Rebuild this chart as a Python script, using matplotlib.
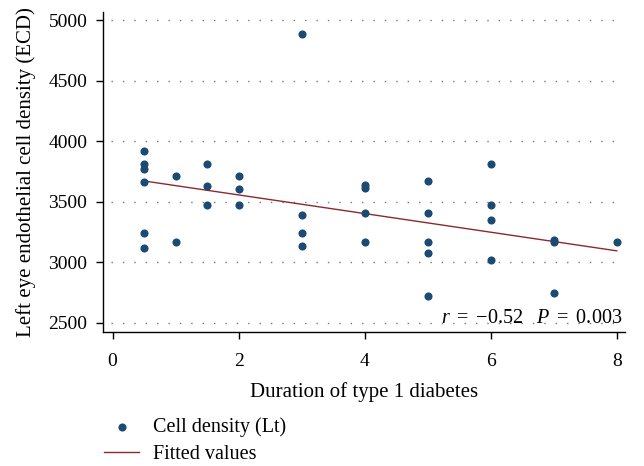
import numpy as np
import matplotlib
matplotlib.use("Agg")
import matplotlib.pyplot as plt

# duration of type 1 diabetes (years) and left eye ECD
duration = [0.5, 0.5, 0.5, 0.5, 0.5, 0.5,
            1, 1,
            1.5, 1.5, 1.5,
            2, 2, 2,
            3, 3, 3, 3,
            4, 4, 4, 4,
            5, 5, 5, 5, 5,
            6, 6, 6, 6,
            7, 7, 7,
            8]
density = [3920, 3810, 3770, 3660, 3240, 3120,
           3710, 3170,
           3810, 3630, 3475,
           3710, 3605, 3475,
           4885, 3390, 3240, 3135,
           3640, 3610, 3405, 3170,
           3670, 3410, 3170, 3080, 2720,
           3810, 3475, 3348, 3022,
           3185, 3170, 2748,
           3170]
# fitted values line
fit_x = [0.5, 8]
fit_y = [3672, 3094]
yticks = [2500, 3000, 3500, 4000, 4500, 5000]
xticks = [0, 2, 4, 6, 8]

plt.rcParams['font.family'] = ['Liberation Serif', 'DejaVu Serif']
plt.rcParams['mathtext.fontset'] = 'custom'
plt.rcParams['mathtext.it'] = 'Liberation Serif:italic'
plt.rcParams['mathtext.rm'] = 'Liberation Serif'

dot_col = '#1b4a72'
line_col = '#8b2a2e'

fig = plt.figure(figsize=(6.44, 4.66), dpi=100)
ax = fig.add_axes([0.1604, 0.2876, 0.8101, 0.6866])

pts = ax.scatter(duration, density, s=34, color=dot_col, zorder=3, linewidths=0)
ln, = ax.plot(fit_x, fit_y, color=line_col, lw=1.0, zorder=2)

ax.set_xlim(-0.146, 8.13)
ax.set_ylim(2423, 5069)
ax.set_xticks(xticks)
ax.set_yticks(yticks)
ax.tick_params(direction='out', length=5, width=1, labelsize=14)
ax.tick_params(axis='x', pad=10)
ax.tick_params(axis='y', pad=6.5)
for s in ['top', 'right']:
    ax.spines[s].set_visible(False)
for s in ['left', 'bottom']:
    ax.spines[s].set_linewidth(1.0)

for v in yticks:
    ax.axhline(v, color='#777777', lw=1.0, linestyle=(0, (1, 7.2)),
               xmin=0.015, xmax=0.985, zorder=1)

ax.set_xlabel('Duration of type 1 diabetes', fontsize=15, labelpad=9)
ax.set_ylabel('Left eye endothelial cell density (ECD)', fontsize=15, labelpad=9)

ax.text(8.09, 2500, r'$r\ =\ {-}0.52\quad P\ =\ 0.003$',
        ha='right', va='baseline', fontsize=14.5)

fig.legend([pts, ln], ['Cell density (Lt)', 'Fitted values'],
           loc='upper left', bbox_to_anchor=(0.1615, 0.105), frameon=False,
           fontsize=14.5, handlelength=1.75, handletextpad=0.7,
           labelspacing=0.4, scatterpoints=1, borderpad=0, borderaxespad=0)

fig.savefig('out.png', dpi=100)
